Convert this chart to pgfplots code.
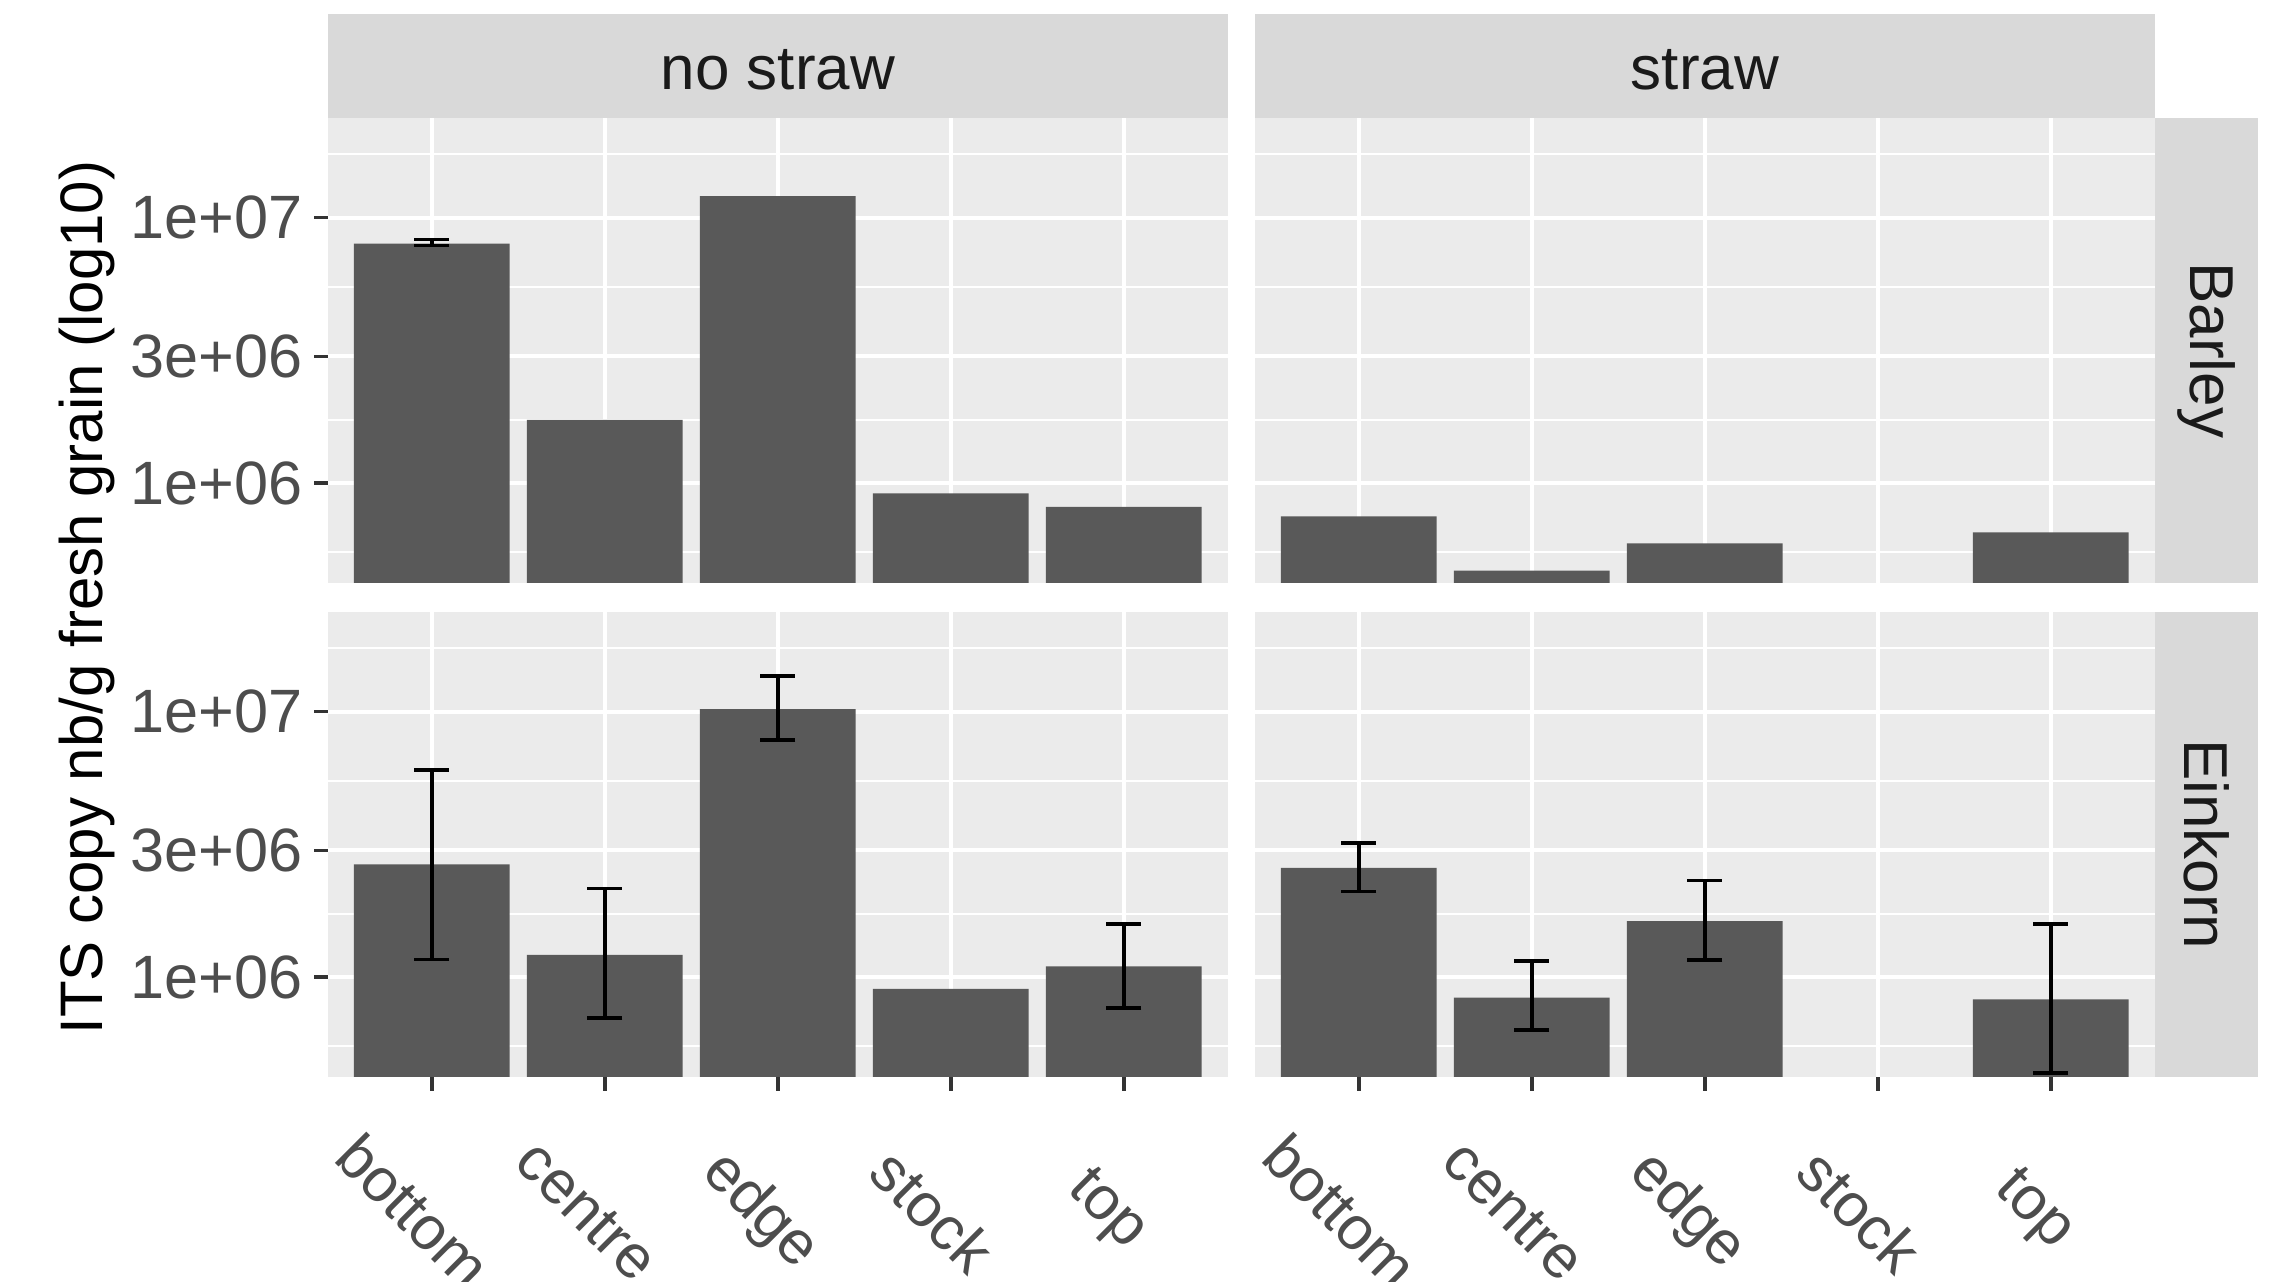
\documentclass[border=0pt]{standalone}
\usepackage{fontspec}
\setmainfont{Liberation Sans}
\usepackage{pgfplots}
\usepackage{pgfplotstable}
\pgfplotsset{compat=1.18}

\definecolor{panelbg}{HTML}{EBEBEB}
\definecolor{stripbg}{HTML}{D9D9D9}
\definecolor{barc}{HTML}{595959}
\definecolor{ticklab}{HTML}{4D4D4D}
\definecolor{tickc}{HTML}{333333}
\definecolor{striptxt}{HTML}{1A1A1A}

\newcommand{\ticksize}{\fontsize{15.3}{18}\selectfont}
\newcommand{\stripsize}{\fontsize{15.5}{18}\selectfont}

% Barley, no straw
\pgfplotstableread{
x y
0 7.98e6
1 1.729e6
2 1.205e7
3 9.13e5
4 8.12e5
}\barleyNS
\pgfplotstableread{
x y ep em
0 7.98e6 0.30e6 0.13e6
}\barleyNSerr
% Barley, straw
\pgfplotstableread{
x y
0 7.48e5
1 4.67e5
2 5.92e5
4 6.52e5
}\barleyS
% Einkorn, no straw
\pgfplotstableread{
x y
0 2.656e6
1 1.213e6
2 1.023e7
3 9.03e5
4 1.096e6
}\einkornNS
\pgfplotstableread{
x y ep em
0 2.656e6 3.364e6 1.492e6
1 1.213e6 0.944e6 0.513e6
2 1.023e7 3.36e6 2.41e6
4 1.096e6 0.492e6 0.334e6
}\einkornNSerr
% Einkorn, straw
\pgfplotstableread{
x y
0 2.577e6
1 8.37e5
2 1.624e6
4 8.24e5
}\einkornS
\pgfplotstableread{
x y ep em
0 2.577e6 0.633e6 0.476e6
1 8.37e5 3.10e5 2.06e5
2 1.624e6 6.87e5 4.68e5
4 8.24e5 7.58e5 3.88e5
}\einkornSerr

\pgfplotsset{
  every axis/.append style={
    scale only axis, width=224.9pt, height=116.3pt,
    xmin=-0.6, xmax=4.6, ymin=4.2e5, ymax=2.38e7,
    xtick={0,1,2,3,4}, ytick={1e6,3e6,1e7},
    minor ytick={5.477e5,1.732e6,5.477e6,1.732e7},
    grid=both,
    major grid style={white, line width=1pt},
    minor grid style={white, line width=0.5pt},
    axis line style={draw=none},
    tick align=outside, major tick length=3.5pt, minor tick length=0pt,
    tick style={color=tickc, line width=0.85pt},
    xtick pos=bottom, ytick pos=left,
  },
}

\begin{document}
\begin{tikzpicture}
\useasboundingbox (0,0) rectangle (569pt,320.5pt);

% Top-left: Barley, no straw
\begin{semilogyaxis}[at={(82pt,174.75pt)}, anchor=south west,
  axis background/.style={fill=panelbg},
  xticklabels={},
  yticklabels={\mbox{1e+06},\mbox{3e+06},\mbox{1e+07}},
  yticklabel style={font=\ticksize, color=ticklab, inner sep=0pt, xshift=-2.75pt},
  xtick style={draw=none}]
\addplot[ybar, bar width=0.9, fill=barc, draw=none] table[x=x,y=y] {\barleyNS};
\addplot[draw=none, mark=none, forget plot, error bars/.cd, y dir=both, y explicit,
  error bar style={draw=black, line width=0.95pt}, error mark=|,
  error mark options={draw=black, line width=0.95pt, mark size=4.375pt}]
  table[x=x,y=y,y error plus=ep,y error minus=em] {\barleyNSerr};
\end{semilogyaxis}

% Top-right: Barley, straw
\begin{semilogyaxis}[at={(313.75pt,174.75pt)}, anchor=south west,
  axis background/.style={fill=panelbg},
  xticklabels={}, yticklabels={},
  xtick style={draw=none}, ytick style={draw=none}]
\addplot[ybar, bar width=0.9, fill=barc, draw=none] table[x=x,y=y] {\barleyS};
\end{semilogyaxis}

% Bottom-left: Einkorn, no straw
\begin{semilogyaxis}[at={(82pt,51.25pt)}, anchor=south west,
  axis background/.style={fill=panelbg},
  yticklabels={\mbox{1e+06},\mbox{3e+06},\mbox{1e+07}},
  yticklabel style={font=\ticksize, color=ticklab, inner sep=0pt, xshift=-2.75pt},
  xticklabels={bottom,centre,edge,stock,top},
  xticklabel style={font=\ticksize, color=ticklab, anchor=center, inner sep=0pt,
    xshift=-4.5pt, yshift=-30pt, rotate=-45}]
\addplot[ybar, bar width=0.9, fill=barc, draw=none] table[x=x,y=y] {\einkornNS};
\addplot[draw=none, mark=none, forget plot, error bars/.cd, y dir=both, y explicit,
  error bar style={draw=black, line width=0.95pt}, error mark=|,
  error mark options={draw=black, line width=0.95pt, mark size=4.375pt}]
  table[x=x,y=y,y error plus=ep,y error minus=em] {\einkornNSerr};
\end{semilogyaxis}

% Bottom-right: Einkorn, straw
\begin{semilogyaxis}[at={(313.75pt,51.25pt)}, anchor=south west,
  axis background/.style={fill=panelbg},
  yticklabels={}, ytick style={draw=none},
  xticklabels={bottom,centre,edge,stock,top},
  xticklabel style={font=\ticksize, color=ticklab, anchor=center, inner sep=0pt,
    xshift=-4.5pt, yshift=-30pt, rotate=-45}]
\addplot[ybar, bar width=0.9, fill=barc, draw=none] table[x=x,y=y] {\einkornS};
\addplot[draw=none, mark=none, forget plot, error bars/.cd, y dir=both, y explicit,
  error bar style={draw=black, line width=0.95pt}, error mark=|,
  error mark options={draw=black, line width=0.95pt, mark size=4.375pt}]
  table[x=x,y=y,y error plus=ep,y error minus=em] {\einkornSerr};
\end{semilogyaxis}

% Strips
\fill[stripbg] (82pt,291.05pt) rectangle (306.9pt,317pt);
\fill[stripbg] (313.75pt,291.05pt) rectangle (538.65pt,317pt);
\fill[stripbg] (538.65pt,174.75pt) rectangle (564.5pt,291.05pt);
\fill[stripbg] (538.65pt,51.25pt) rectangle (564.5pt,167.55pt);
\node[font=\stripsize, text=striptxt] at (194.45pt,303pt) {no straw};
\node[font=\stripsize, text=striptxt] at (426.2pt,303pt) {straw};
\node[font=\stripsize, text=striptxt, rotate=-90] at (551.6pt,232.9pt) {Barley};
\node[font=\stripsize, text=striptxt, rotate=-90] at (551.6pt,109.4pt) {Einkorn};

% Y axis title
\node[font=\fontsize{15}{18}\selectfont, rotate=90] at (21.75pt,171.1pt) {ITS copy nb/g fresh grain (log10)};
\end{tikzpicture}
\end{document}
